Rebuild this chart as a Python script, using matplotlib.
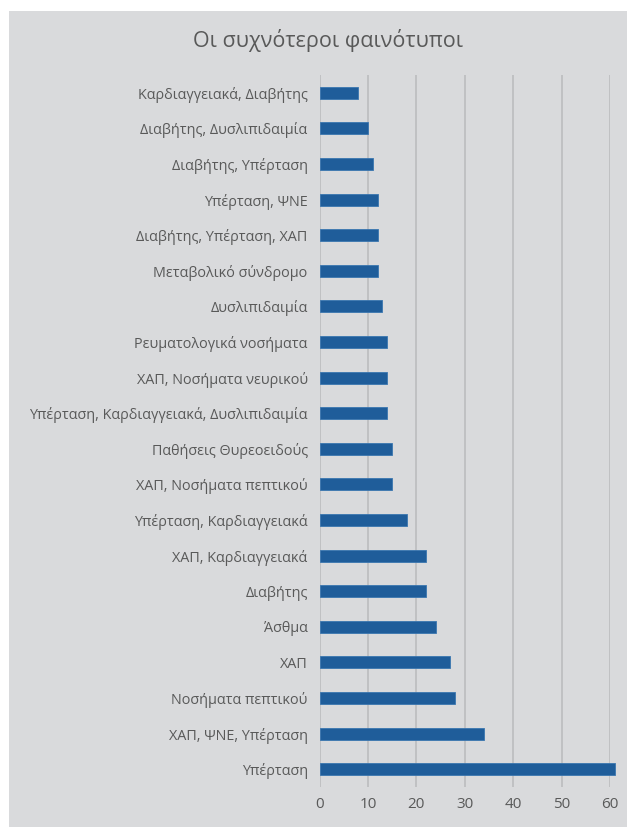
import matplotlib.pyplot as plt
from matplotlib.patches import Rectangle

plt.rcParams['font.family'] = ['Open Sans', 'DejaVu Sans']

# Phenotypes, listed top to bottom as they appear on the chart
categories = [
    'Καρδιαγγειακά, Διαβήτης',
    'Διαβήτης, Δυσλιπιδαιμία',
    'Διαβήτης, Υπέρταση',
    'Υπέρταση, ΨΝΕ',
    'Διαβήτης, Υπέρταση, ΧΑΠ',
    'Μεταβολικό σύνδρομο',
    'Δυσλιπιδαιμία',
    'Ρευματολογικά νοσήματα',
    'ΧΑΠ, Νοσήματα νευρικού',
    'Υπέρταση, Καρδιαγγειακά, Δυσλιπιδαιμία',
    'Παθήσεις Θυρεοειδούς',
    'ΧΑΠ, Νοσήματα πεπτικού',
    'Υπέρταση, Καρδιαγγειακά',
    'ΧΑΠ, Καρδιαγγειακά',
    'Διαβήτης',
    'Άσθμα',
    'ΧΑΠ',
    'Νοσήματα πεπτικού',
    'ΧΑΠ, ΨΝΕ, Υπέρταση',
    'Υπέρταση',
]
counts = [8, 10, 11, 12, 12, 12, 13, 14, 14, 14, 15, 15, 18, 22, 22, 24, 27, 28, 34, 61]
xticks = [0, 10, 20, 30, 40, 50, 60]

bg = '#d9dadc'
text_col = '#595959'
bar_col = '#1f5d9a'

fig = plt.figure(figsize=(6.27, 8.27), dpi=100)
fig.patch.set_facecolor('white')
# grey chart area with a thin white margin on the left and top
fig.patches.append(Rectangle((9 / 627, 0), 1, 1 - 11 / 827, transform=fig.transFigure,
                             facecolor=bg, edgecolor='none', zorder=-10))

ax = fig.add_axes([319.5 / 627, 1 - 787 / 827, 290.5 / 627, 712 / 827])
ax.set_facecolor(bg)

y = list(range(len(categories)))[::-1]
bars = ax.barh(y, counts, height=0.34, color=bar_col, edgecolor='#3a76b0',
               linewidth=0.6, zorder=3)
# the longest bar runs a little past the last gridline
for b in bars:
    b.set_clip_on(False)

ax.set_xlim(0, 60)
ax.set_ylim(-0.5, len(categories) - 0.5)
ax.set_xticks(xticks)
ax.set_yticks(y)
ax.set_yticklabels(categories)
ax.tick_params(axis='both', length=0, colors=text_col)
ax.tick_params(axis='y', pad=8.5, labelsize=10.4)
ax.tick_params(axis='x', pad=7, labelsize=11)
ax.xaxis.grid(True, color='#bcbdbf', linewidth=1.2, zorder=0)
ax.set_axisbelow(True)
for side in ['top', 'right', 'bottom', 'left']:
    ax.spines[side].set_visible(False)

fig.text(0.5 + 9 / 627 / 2 + 0.016, 1 - 40 / 827, 'Οι συχνότεροι φαινότυποι', ha='center', va='center',
         fontsize=15.5, color=text_col)

fig.savefig('out.png', dpi=100, facecolor=fig.get_facecolor())
